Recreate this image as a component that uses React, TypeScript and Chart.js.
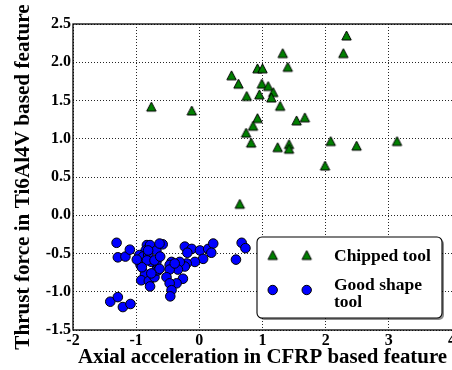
import React, { useEffect, useRef } from 'react';
import { Chart, registerables } from 'chart.js';

Chart.register(...registerables);

// ---------- data ----------
const chippedX = [-0.76, -0.12, 0.51, 0.62, 0.75, 0.92, 1.0, 0.99, 1.09, 1.17, 0.95, 1.14, 1.28, 0.92, 0.85, 0.74, 0.82, 1.54, 1.67, 1.24, 1.42, 1.42, 2.08, 2.49, 3.13, 1.99, 0.64, 1.32, 1.4, 2.33, 2.28];
const chippedY = [1.42, 1.37, 1.83, 1.72, 1.56, 1.92, 1.92, 1.72, 1.69, 1.61, 1.58, 1.54, 1.43, 1.27, 1.17, 1.08, 0.95, 1.24, 1.28, 0.89, 0.93, 0.87, 0.97, 0.91, 0.97, 0.65, 0.15, 2.12, 1.94, 2.35, 2.12];

const goodX = [-1.41, -1.29, -1.21, -1.09, -1.31, -1.29, -1.17, -1.1, -0.83, -0.85, -0.95, -0.89, -0.81, -0.93, -0.86, -0.92, -0.8, -0.78, -0.71, -0.76, -0.68, -0.68, -0.78, -0.68, -0.58, -0.23, -0.12, -0.19, 0.01, 0.14, 0.22, 0.19, 0.06, -0.07, -0.2, -0.23, -0.31, -0.44, -0.47, -0.34, -0.47, -0.65, -0.52, -0.26, -0.36, -0.47, -0.44, -0.46, 0.58, 0.67, 0.73, -0.63, -0.39, -0.63, -0.76, -0.83, -0.71, -0.81, -0.91, -0.62, -0.99];
const goodY = [-1.13, -1.07, -1.2, -1.16, -0.36, -0.55, -0.54, -0.45, -0.39, -0.46, -0.52, -0.54, -0.52, -0.65, -0.77, -0.85, -0.86, -0.93, -0.81, -0.61, -0.61, -0.72, -0.39, -0.46, -0.38, -0.41, -0.44, -0.49, -0.46, -0.44, -0.37, -0.49, -0.57, -0.61, -0.63, -0.67, -0.61, -0.61, -0.65, -0.71, -0.71, -0.72, -0.81, -0.83, -0.89, -0.89, -0.98, -1.06, -0.58, -0.36, -0.43, -0.37, -0.63, -0.7, -0.76, -0.59, -0.59, -0.46, -0.68, -0.54, -0.58];

const xTicks = [-2, -1, 0, 1, 2, 3, 4];
const yTicks = [-1.5, -1.0, -0.5, 0.0, 0.5, 1.0, 1.5, 2.0, 2.5];
const seriesLabels = ['Chipped tool', 'Good shape tool'];
const legendLines = [['Chipped tool'], ['Good shape', 'tool']];
const xTitle = 'Axial acceleration in CFRP based feature';
const yTitle = 'Thrust force in Ti6Al4V based feature';

// ---------- styles ----------
const FAMILY = '"Liberation Serif", "Times New Roman", serif';
const GREEN = '#008000';
const BLUE = '#0000ff';

function makeTriangle(): HTMLCanvasElement {
  const c = document.createElement('canvas');
  c.width = 13;
  c.height = 13;
  const g = c.getContext('2d')!;
  g.beginPath();
  g.moveTo(6.5, 2.0);
  g.lineTo(11.2, 11.0);
  g.lineTo(1.8, 11.0);
  g.closePath();
  g.fillStyle = GREEN;
  g.fill();
  g.lineWidth = 1;
  g.strokeStyle = '#000';
  g.stroke();
  return c;
}

function roundRect(ctx: CanvasRenderingContext2D, x: number, y: number, w: number, h: number, r: number) {
  ctx.beginPath();
  ctx.moveTo(x + r, y);
  ctx.lineTo(x + w - r, y);
  ctx.arcTo(x + w, y, x + w, y + r, r);
  ctx.lineTo(x + w, y + h - r);
  ctx.arcTo(x + w, y + h, x + w - r, y + h, r);
  ctx.lineTo(x + r, y + h);
  ctx.arcTo(x, y + h, x, y + h - r, r);
  ctx.lineTo(x, y + r);
  ctx.arcTo(x, y, x + r, y, r);
  ctx.closePath();
}

export default function App() {
  const ref = useRef<HTMLCanvasElement | null>(null);

  useEffect(() => {
    if (!ref.current) return;
    const tri = makeTriangle();

    const framePlugin = {
      id: 'frame',
      afterDatasetsDraw(chart: any) {
        const { ctx, chartArea } = chart;
        ctx.save();
        ctx.strokeStyle = '#000';
        ctx.lineWidth = 1.3;
        ctx.strokeRect(chartArea.left, chartArea.top, chartArea.right - chartArea.left + 2, chartArea.bottom - chartArea.top);
        ctx.restore();
      },
    };

    const legendPlugin = {
      id: 'mplLegend',
      afterDraw(chart: any) {
        const ctx: CanvasRenderingContext2D = chart.ctx;
        const bx = 257, by = 237, bw = 185, bh = 81;
        ctx.save();
        ctx.fillStyle = 'rgba(0,0,0,0.45)';
        roundRect(ctx, bx + 2, by + 2, bw, bh, 5);
        ctx.fill();
        ctx.fillStyle = '#fff';
        roundRect(ctx, bx, by, bw, bh, 5);
        ctx.fill();
        ctx.lineWidth = 1.1;
        ctx.strokeStyle = '#000';
        ctx.stroke();

        const mx = [272.7, 306.7];
        mx.forEach((x) => ctx.drawImage(tri, x - 6.5, 255 - 6.5));
        mx.forEach((x) => {
          ctx.beginPath();
          ctx.arc(x, 290, 4.7, 0, Math.PI * 2);
          ctx.fillStyle = BLUE;
          ctx.fill();
          ctx.lineWidth = 1;
          ctx.strokeStyle = '#000';
          ctx.stroke();
        });

        ctx.fillStyle = '#000';
        ctx.font = `bold 17.5px ${FAMILY}`;
        ctx.textAlign = 'left';
        ctx.textBaseline = 'middle';
        ctx.fillText(legendLines[0][0], 334, 256.5);
        ctx.fillText(legendLines[1][0], 334, 285.5);
        ctx.fillText(legendLines[1][1], 334, 302.5);
        ctx.restore();
      },
    };

    const chart = new Chart(ref.current, {
      type: 'scatter',
      data: {
        datasets: [
          {
            label: seriesLabels[0],
            data: chippedX.map((x, i) => ({ x, y: chippedY[i] })),
            pointStyle: tri as any,
            pointRadius: 6,
            backgroundColor: GREEN,
            borderColor: '#000',
          },
          {
            label: seriesLabels[1],
            data: goodX.map((x, i) => ({ x, y: goodY[i] })),
            pointStyle: 'circle',
            pointRadius: 4.8,
            borderWidth: 1,
            backgroundColor: BLUE,
            borderColor: '#000',
          },
        ],
      },
      options: {
        animation: false,
        responsive: false,
        maintainAspectRatio: false,
        layout: { autoPadding: false, padding: { top: 24, left: 0, right: 0, bottom: 0 } },
        plugins: { legend: { display: false }, tooltip: { enabled: false } },
        scales: {
          x: {
            type: 'linear',
            min: xTicks[0],
            max: xTicks[xTicks.length - 1],
            afterBuildTicks: (s: any) => {
              s.ticks = xTicks.map((v) => ({ value: v }));
            },
            ticks: {
              font: { family: FAMILY, size: 16, weight: 'bold' },
              color: '#000',
              padding: 1,
              maxRotation: 0,
              autoSkip: false,
              callback: (v: any) => String(v),
            },
            grid: { color: 'rgba(0,0,0,0.85)', lineWidth: 1, drawTicks: false },
            border: { display: false, dash: [1, 2] },
            title: {
              display: true,
              text: xTitle,
              font: { family: FAMILY, size: 20.9, weight: 'bold' },
              color: '#000',
              padding: { top: 1, bottom: 0 },
            },
            afterFit: (s: any) => {
              s.height = 40;
              s.paddingLeft = 0;
              s.paddingRight = 0;
            },
          },
          y: {
            type: 'linear',
            min: yTicks[0],
            max: yTicks[yTicks.length - 1],
            afterBuildTicks: (s: any) => {
              s.ticks = yTicks.map((v) => ({ value: v }));
            },
            ticks: {
              font: { family: FAMILY, size: 16, weight: 'bold' },
              color: '#000',
              padding: 2,
              autoSkip: false,
              callback: (v: any) => Number(v).toFixed(1),
            },
            grid: { color: 'rgba(0,0,0,0.85)', lineWidth: 1, drawTicks: false },
            border: { display: false, dash: [1, 2] },
            title: {
              display: true,
              text: yTitle,
              font: { family: FAMILY, size: 21.2, weight: 'bold' },
              color: '#000',
              padding: { top: 10.5, bottom: 0 },
            },
            afterFit: (s: any) => {
              s.width = 73;
              s.paddingTop = 0;
              s.paddingBottom = 0;
            },
          },
        },
      } as any,
      plugins: [framePlugin, legendPlugin],
    });

    return () => chart.destroy();
  }, []);

  return (
    <div style={{ position: 'absolute', left: 0, top: 0, width: 452, height: 370, background: '#fff' }}>
      <canvas ref={ref} width={452} height={370} style={{ display: 'block', width: 452, height: 370 }} />
    </div>
  );
}
